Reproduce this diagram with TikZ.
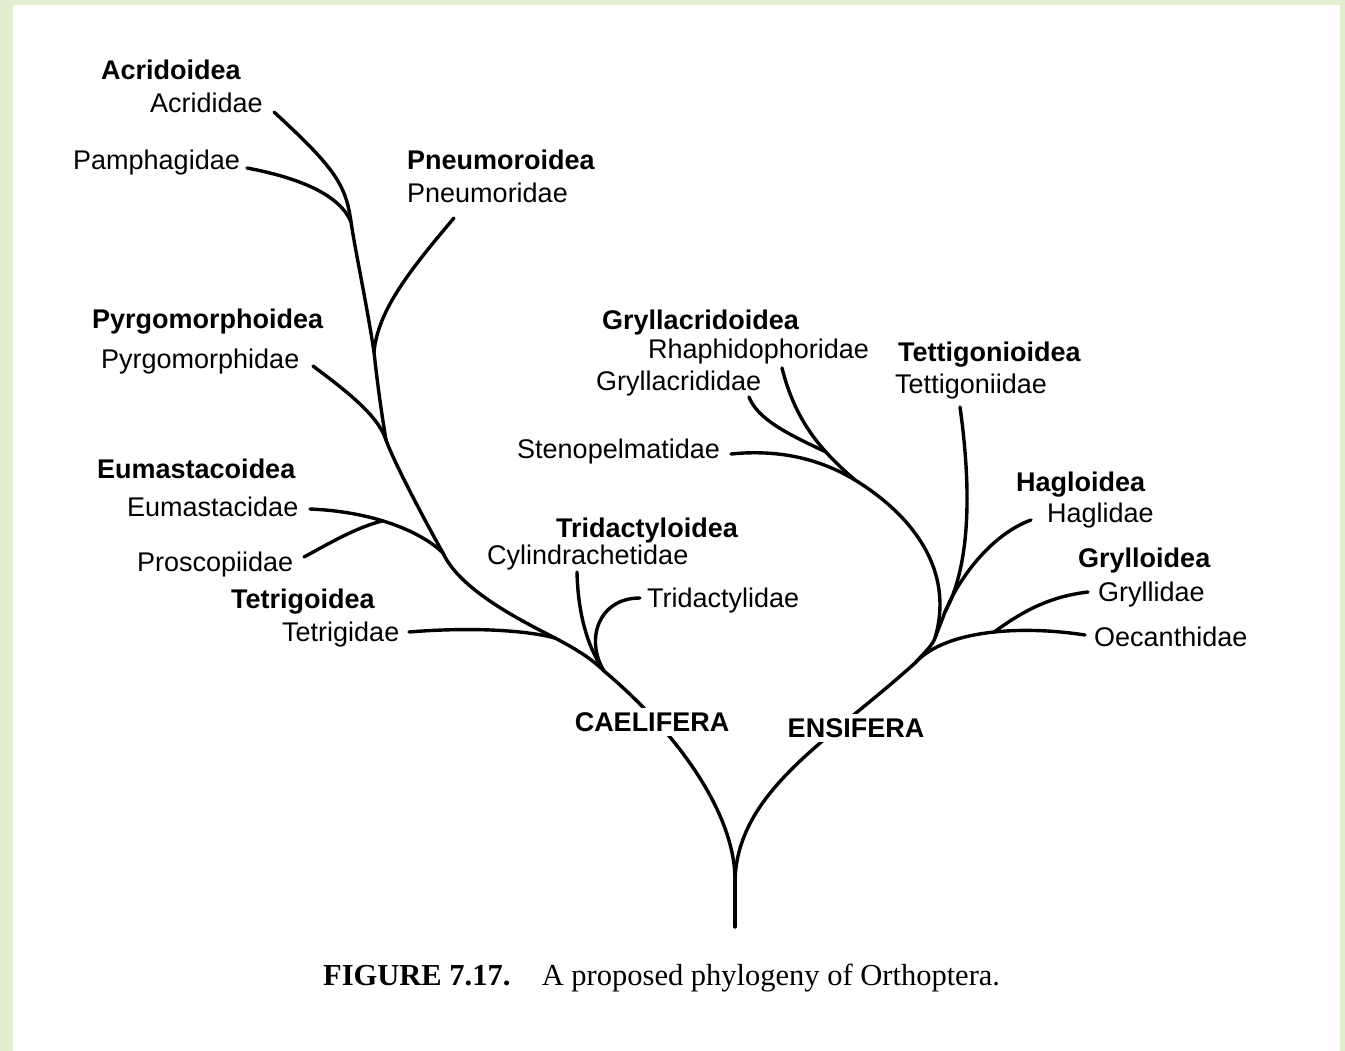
\documentclass[tikz,border=0pt]{standalone}
\usepackage{fontspec}
\setmainfont{Liberation Sans}
\newfontfamily\captionserif{Liberation Serif}
\usetikzlibrary{positioning}
\definecolor{slidegreen}{RGB}{226,238,208}

\begin{document}
\begin{tikzpicture}[
		x=1pt, y=-1pt,
		node distance=31pt,
		taxon/.style={inner sep=0pt, anchor=base west, font=\fontsize{27}{32}\selectfont},
		superfam/.style={taxon, font=\fontsize{27}{32}\selectfont\bfseries},
		suborder/.style={fill=white, inner sep=4pt, font=\fontsize{27}{32}\selectfont\bfseries},
		caption/.style={inner sep=0pt, font=\fontsize{30.5}{36}\selectfont\captionserif},
		branch/.style={line width=3.4pt, line cap=round, line join=round},
	]
		\fill[slidegreen] (0,0) rectangle (1345,1051);
		\fill[white] (13,5) rectangle (1340,1051);
		\useasboundingbox (0,0) rectangle (1345,1051);

		\node (acridoidea) [superfam] at (101,80) {Acridoidea};
		\node (acrididae) [taxon] at (150,113) {Acrididae};
		\node (pamphagidae) [taxon] at (73,170) {Pamphagidae};
		\node (pneumoroidea) [superfam] at (407,170) {Pneumoroidea};
		\node (pneumoridae) [taxon] at (407,203) {Pneumoridae};
		\node (pyrgomorphoidea) [superfam] at (92,328) {Pyrgomorphoidea};
		\node (pyrgomorphidae) [taxon] at (101,368) {Pyrgomorphidae};
		\node (eumastacoidea) [superfam] at (97,478) {Eumastacoidea};
		\node (eumastacidae) [taxon] at (127,516) {Eumastacidae};
		\node (proscopiidae) [taxon] at (137,571) {Proscopiidae};
		\node (tetrigoidea) [superfam] at (231,608) {Tetrigoidea};
		\node (tetrigidae) [taxon] at (282,641) {Tetrigidae};
		\node (tridactyloidea) [superfam] at (556,537) {Tridactyloidea};
		\node (cylindrachetidae) [taxon] at (487,564) {Cylindrachetidae};
		\node (tridactylidae) [taxon] at (647,607) {Tridactylidae};
		\node (gryllacridoidea) [superfam] at (602,330) {Gryllacridoidea};
		\node (rhaphidophoridae) [taxon] at (648,359) {Rhaphidophoridae};
		\node (gryllacrididae) [taxon] at (596,390) {Gryllacrididae};
		\node (stenopelmatidae) [taxon] at (517,458) {Stenopelmatidae};
		\node (tettigonioidea) [superfam] at (898,361) {Tettigonioidea};
		\node (tettigoniidae) [taxon] at (895,393) {Tettigoniidae};
		\node (hagloidea) [superfam] at (1016,491) {Hagloidea};
		\node (haglidae) [taxon] at (1047,522) {Haglidae};
		\node (grylloidea) [superfam] at (1078,567) {Grylloidea};
		\node (gryllidae) [taxon] at (1098,601) {Gryllidae};
		\node (oecanthidae) [taxon] at (1094,646) {Oecanthidae};

		\coordinate (root) at (735,927);
		\coordinate (split) at (735,880);
		\coordinate (jTri) at (604,671);
		\coordinate (jTet) at (555,638);
		\coordinate (jEum) at (443,553);
		\coordinate (jPros) at (382,521);
		\coordinate (jPyr) at (386,440);
		\coordinate (jPne) at (374,352);
		\coordinate (jAcr) at (351,222);
		\coordinate (jEns) at (915,663);
		\coordinate (jTrk) at (935,638);
		\coordinate (jTH) at (945,612);
		\coordinate (jSten) at (855,480);
		\coordinate (jGryl) at (826,452);
		\coordinate (jGrll) at (994,632);

		\coordinate (tAcri) at (274,112);
		\coordinate (tPamp) at (247,168);
		\coordinate (tPneu) at (454,218);
		\coordinate (tPyrg) at (313,366);
		\coordinate (tEuma) at (310,509);
		\coordinate (tPros) at (304,557);
		\coordinate (tTetr) at (409,632);
		\coordinate (tCyli) at (577,572);
		\coordinate (tTrid) at (640,598);
		\coordinate (tRhap) at (782,368);
		\coordinate (tGryl) at (749,397);
		\coordinate (tSten) at (731,454);
		\coordinate (tTett) at (960,407);
		\coordinate (tHagl) at (1031,520);
		\coordinate (tGrll) at (1088,592);
		\coordinate (tOeca) at (1085,635);

		\draw[branch] (root) -- (split);
		\draw[branch] (split) .. controls (735,815) and (680,735) .. (jTri)
			.. controls (590,657) and (572,647) .. (jTet)
			.. controls (520,620) and (460,590) .. (jEum)
			.. controls (430,530) and (395,465) .. (jPyr)
			.. controls (381,410) and (377,380) .. (jPne)
			.. controls (366,300) and (356,255) .. (jAcr)
			.. controls (346,185) and (335,168) .. (tAcri);
		\draw[branch] (tPamp) .. controls (300,178) and (340,195) .. (jAcr);
		\draw[branch] (tPneu) .. controls (410,270) and (378,310) .. (jPne);
		\draw[branch] (tPyrg) .. controls (345,390) and (378,415) .. (jPyr);
		\draw[branch] (tEuma) .. controls (380,512) and (425,535) .. (jEum);
		\draw[branch] (tPros) .. controls (330,543) and (355,528) .. (jPros);
		\draw[branch] (tTetr) .. controls (470,627) and (525,630) .. (jTet);
		\draw[branch] (tCyli) .. controls (578,615) and (588,648) .. (jTri);
		\draw[branch] (tTrid) .. controls (598,598) and (585,640) .. (jTri);

		\draw[branch] (split) .. controls (738,790) and (830,740) .. (jEns)
			.. controls (925,652) and (932,646) .. (jTrk)
			.. controls (955,570) and (912,515) .. (jSten)
			.. controls (820,450) and (795,420) .. (tRhap);
		\draw[branch] (tGryl) .. controls (758,420) and (790,435) .. (jGryl);
		\draw[branch] (tSten) .. controls (790,448) and (830,465) .. (jSten);
		\draw[branch] (tTett) .. controls (973,500) and (968,570) .. (jTH) -- (jTrk);
		\draw[branch] (tHagl) .. controls (990,535) and (958,580) .. (jTH);
		\draw[branch] (tOeca) .. controls (1020,625) and (945,630) .. (jEns);
		\draw[branch] (tGrll) .. controls (1045,597) and (1018,615) .. (jGrll);

		\node (caelifera) [suborder] at (652,722) {CAELIFERA};
		\node (ensifera) [suborder] at (856,728) {ENSIFERA};

		\node (figlabel) [caption, anchor=base west] at (323,985) {\bfseries FIGURE 7.17.};
		\node (figtext) [caption, base right=of figlabel] {A proposed phylogeny of Orthoptera.};
	\end{tikzpicture}
\end{document}
